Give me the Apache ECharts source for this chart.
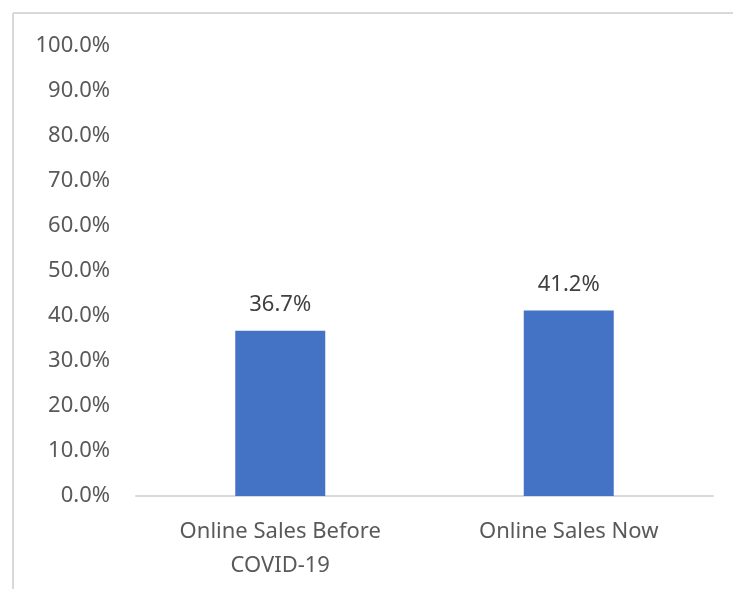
<!DOCTYPE html>
<html>
<head>
<meta charset="utf-8">
<title>Online Sales</title>
<script src="https://cdn.jsdelivr.net/npm/echarts@6/dist/echarts.min.js"></script>
<style>
    html, body { margin: 0; padding: 0; background: #fff; }
    #chart { width: 733px; height: 589px; }
</style>
</head>
<body>
<div id="chart"></div>
<script type="text/javascript">
    var categories = ['Online Sales Before\nCOVID-19', 'Online Sales Now'];
    var values = [36.7, 41.2];
    var yTicks = { min: 0, max: 100, interval: 10 };

    var font = 'Noto Sans';
    var myChart = echarts.init(document.getElementById('chart'), null, { renderer: 'canvas' });

    var option = {
        animation: false,
        backgroundColor: '#fff',
        // chart frame (only top and left edges show in the picture)
        graphic: [
            { type: 'line', shape: { x1: 13, y1: 13, x2: 733, y2: 13 }, style: { stroke: '#d9d9d9', lineWidth: 2 } },
            { type: 'line', shape: { x1: 13, y1: 13, x2: 13, y2: 589 }, style: { stroke: '#d9d9d9', lineWidth: 2 } }
        ],
        grid: { left: 136, right: 20, top: 46, bottom: 93 },
        xAxis: {
            type: 'category',
            data: categories,
            axisLine: { lineStyle: { color: '#d9d9d9', width: 2 } },
            axisTick: { show: false },
            axisLabel: {
                color: '#595959', fontFamily: font, fontSize: 22,
                lineHeight: 34, margin: 19, interval: 0
            }
        },
        yAxis: {
            type: 'value',
            min: yTicks.min,
            max: yTicks.max,
            interval: yTicks.interval,
            axisLine: { show: false },
            axisTick: { show: false },
            splitLine: { show: false },
            axisLabel: {
                color: '#595959', fontFamily: font, fontSize: 22, margin: 26,
                formatter: function (v) { return v.toFixed(1) + '%'; }
            }
        },
        series: [{
            type: 'bar',
            data: values,
            barWidth: 90,
            itemStyle: { color: '#4472C4' },
            label: {
                show: true,
                position: 'top',
                distance: 15,
                color: '#404040',
                fontFamily: font,
                fontSize: 22,
                formatter: function (p) { return p.value.toFixed(1) + '%'; }
            }
        }]
    };

    myChart.setOption(option);
</script>
</body>
</html>
